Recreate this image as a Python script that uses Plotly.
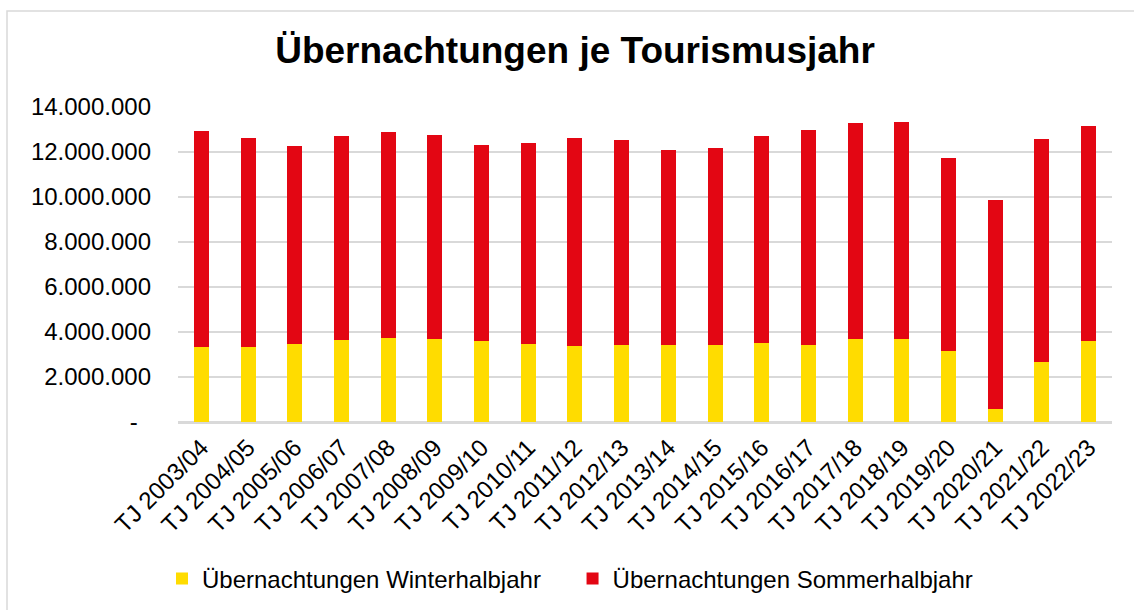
import plotly.graph_objects as go

categories = ["TJ 2003/04", "TJ 2004/05", "TJ 2005/06", "TJ 2006/07", "TJ 2007/08",
              "TJ 2008/09", "TJ 2009/10", "TJ 2010/11", "TJ 2011/12", "TJ 2012/13",
              "TJ 2013/14", "TJ 2014/15", "TJ 2015/16", "TJ 2016/17", "TJ 2017/18",
              "TJ 2018/19", "TJ 2019/20", "TJ 2020/21", "TJ 2021/22", "TJ 2022/23"]

winter = [3320000, 3330000, 3480000, 3630000, 3750000, 3690000, 3590000, 3450000, 3380000, 3410000,
          3410000, 3420000, 3530000, 3410000, 3700000, 3670000, 3170000, 580000, 2680000, 3590000]

summer = [9630000, 9310000, 8800000, 9080000, 9150000, 9050000, 8720000, 8950000, 9230000, 9140000,
          8690000, 8740000, 9200000, 9550000, 9590000, 9650000, 8580000, 9300000, 9910000, 9550000]

ytick_values = [0, 2000000, 4000000, 6000000, 8000000, 10000000, 12000000, 14000000]
ytick_labels = ["-\u00a0\u00a0", "2.000.000", "4.000.000", "6.000.000", "8.000.000",
                "10.000.000", "12.000.000", "14.000.000"]

series_names = ["Übernachtungen Winterhalbjahr", "Übernachtungen Sommerhalbjahr"]
title_text = "Übernachtungen je Tourismusjahr"

YELLOW = "#FFDC00"
RED = "#E30613"
FONT = "Liberation Sans, Arial, sans-serif"

fig = go.Figure()
fig.add_trace(go.Bar(x=categories, y=winter, name=series_names[0] + "\u00a0" * 4,
                     marker=dict(color=YELLOW, line=dict(width=0))))
fig.add_trace(go.Bar(x=categories, y=summer, name=series_names[1],
                     marker=dict(color=RED, line=dict(width=0))))

L, R, T, B = 178, 22, 107, 188
W, H = 1134, 610
pw = W - L - R
ph = H - T - B

def px_x(p):
    return (p - L) / pw

def px_y(p):
    return (H - B - p) / ph

fig.update_layout(
    width=W, height=H, autosize=False,
    margin=dict(l=L, r=R, t=T, b=B, autoexpand=False),
    paper_bgcolor="white", plot_bgcolor="white",
    barmode="stack", bargap=0.68,
    font=dict(family=FONT, color="#000000", size=24),
    title=dict(text="<b>" + title_text + "</b>", x=575 / W, xref="container", xanchor="center",
               y=1 - 50 / H, yref="container", yanchor="middle",
               font=dict(family=FONT, size=37, color="#000000")),
    showlegend=True,
    legend=dict(orientation="h", x=px_x(162), xanchor="left",
                y=px_y(579), yanchor="middle", font=dict(size=24, family=FONT, color="#000000"),
                traceorder="normal", bgcolor="rgba(0,0,0,0)"),
    xaxis=dict(tickangle=-45, tickfont=dict(size=24, family=FONT, color="#000000"),
               showgrid=False, showline=True, linecolor="#D9D9D9", linewidth=2,
               ticks="", fixedrange=True, automargin=False,
               tickmode="array", tickvals=categories, ticktext=categories),
    yaxis=dict(range=[0, 14000000], tickvals=ytick_values, ticktext=ytick_labels,
               tickfont=dict(size=24, family=FONT, color="#000000"),
               showgrid=True, gridcolor="#D9D9D9", gridwidth=1.5,
               zeroline=True, zerolinecolor="#D9D9D9", zerolinewidth=2,
               ticks="", ticklabelstandoff=26, showline=False, automargin=False),
    shapes=[dict(type="rect", xref="paper", yref="paper",
                 x0=px_x(7), x1=px_x(1145), y0=px_y(620), y1=px_y(11),
                 line=dict(color="#D9D9D9", width=1.5), fillcolor="rgba(0,0,0,0)",
                 layer="below")],
)

fig.write_html("out.html", config={"displayModeBar": False},
               post_script="document.body.style.margin='0px';")
